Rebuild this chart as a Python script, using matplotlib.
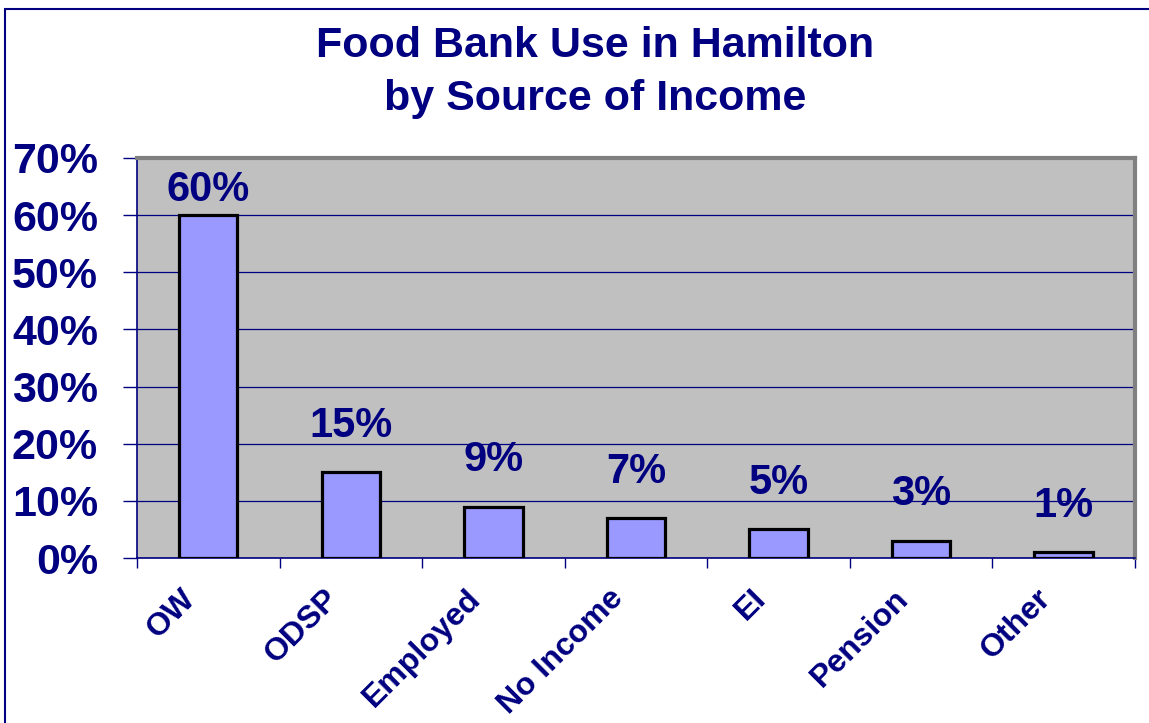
import matplotlib.pyplot as plt
import matplotlib.patches as patches
from matplotlib.transforms import ScaledTranslation
from matplotlib.ticker import FixedLocator, NullFormatter

categories = ["OW", "ODSP", "Employed", "No Income", "EI", "Pension", "Other"]
shares = [60, 15, 9, 7, 5, 3, 1]
y_ticks = [0, 10, 20, 30, 40, 50, 60, 70]

navy = "#000080"
plt.rcParams['font.family'] = ['Liberation Sans', 'DejaVu Sans']
plt.rcParams['font.weight'] = 'bold'

fig = plt.figure(figsize=(11.49, 7.23), dpi=100)
ax = fig.add_axes([0.1192, 0.2282, 0.8686, 0.5533])
ax.set_facecolor("#C0C0C0")

pos = list(range(len(categories)))
bars = ax.bar(pos, shares, width=0.41, color="#9999FF", edgecolor="black", linewidth=2.3, zorder=3)

ax.set_xlim(-0.5, len(categories) - 0.5)
ax.set_ylim(0, 70)
ax.set_yticks(y_ticks)
ax.set_yticklabels([f"{v}%" for v in y_ticks], fontsize=31, color=navy, fontweight='bold')
ax.grid(axis='y', color=navy, linewidth=0.9, zorder=1)
ax.set_axisbelow(True)

# boundary ticks (major), labels on centred minor ticks
ax.xaxis.set_major_locator(FixedLocator([p - 0.5 for p in pos] + [pos[-1] + 0.5]))
ax.xaxis.set_major_formatter(NullFormatter())
ax.set_xticks(pos, minor=True)
ax.set_xticklabels(categories, minor=True, rotation=45, ha='right', va='center',
                   rotation_mode='anchor', fontsize=23, color=navy, fontweight='bold')
ax.tick_params(axis='x', which='major', direction='out', length=7, width=1, color=navy)
ax.tick_params(axis='x', which='minor', length=0, pad=26)
ax.tick_params(axis='y', direction='out', length=10, width=1, color=navy, pad=18)
for lab in ax.get_xticklabels(minor=True):
    lab.set_transform(lab.get_transform() + ScaledTranslation(-0.17, 0, fig.dpi_scale_trans))

for side in ['left', 'bottom']:
    ax.spines[side].set_color(navy)
    ax.spines[side].set_linewidth(1.2)
for side in ['top', 'right']:
    ax.spines[side].set_color("#808080")
    ax.spines[side].set_linewidth(3)

labels = []
for b, v in zip(bars, shares):
    t = ax.annotate(f"{v}%", (b.get_x() + b.get_width() / 2, v), xytext=(0, 19),
                    textcoords='offset points', ha='center', va='bottom',
                    fontsize=30, color=navy, fontweight='bold', zorder=4)
    labels.append(t)

# keep value labels inside the plot area, like Excel does
fig.canvas.draw()
renderer = fig.canvas.get_renderer()
ax_top = ax.get_window_extent().y1
for t in labels:
    bb = t.get_window_extent(renderer)
    limit = ax_top - 12
    if bb.y1 > limit:
        dy_pt = (bb.y1 - limit) * 72 / fig.dpi
        t.set_position((0, 19 - dy_pt))

fig.text(0.518, 0.937, "Food Bank Use in Hamilton", ha='center', va='center',
         fontsize=31, color=navy, fontweight='bold')
fig.text(0.518, 0.863, "by Source of Income", ha='center', va='center',
         fontsize=31, color=navy, fontweight='bold')

fig.patches.append(patches.Rectangle((5 / 1149, -0.1), 2, 1 - 9 / 723 + 0.1,
                                     transform=fig.transFigure, fill=False,
                                     edgecolor=navy, linewidth=1.5))

fig.savefig("out.png", dpi=100)
